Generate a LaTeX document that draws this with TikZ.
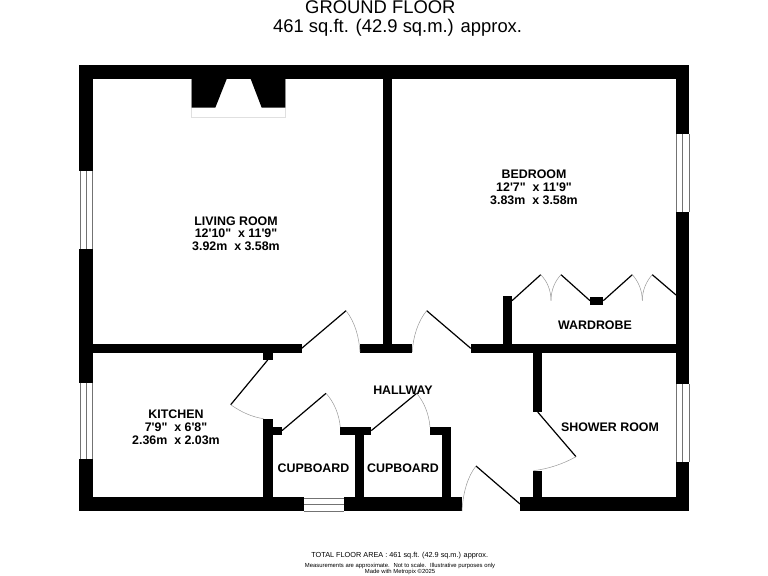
\documentclass[tikz,border=0pt]{standalone}
\usepackage{fontspec}
\setmainfont[Ligatures=TeXOff]{Liberation Sans}
\tikzset{
  wall/.style={fill=black,draw=none},
  leaf/.style={draw=black,line width=1.2bp},
  swing/.style={draw=black!40,line width=0.5bp},
  rail/.style={draw=black!55,line width=0.6bp},
  room/.style={font=\bfseries\fontsize{12.4bp}{12.8bp}\selectfont,align=center,inner sep=0pt,text=black},
  lbl/.style={font=\bfseries\fontsize{12.4bp}{12.8bp}\selectfont,inner sep=0pt,text=black},
  ttl/.style={anchor=base west,inner sep=0pt,font=\fontsize{18.4bp}{18.4bp}\selectfont},
}
\begin{document}
\begin{tikzpicture}[x=1bp,y=-1bp]
\useasboundingbox (0,0) rectangle (768,576);
% outer walls
\fill[wall] (79.3,65) rectangle (689.3,79);
\fill[wall] (79.3,65) rectangle (92.7,511.3);
\fill[wall] (676,65) rectangle (689.3,511.3);
\fill[wall] (79.3,497.3) rectangle (461.7,511.3);
\fill[wall] (520,497.3) rectangle (689.3,511.3);
% inner walls
\fill[wall] (383.3,79) rectangle (392.3,344);
\fill[wall] (92,343.8) rectangle (301.7,352.7);
\fill[wall] (360,343.8) rectangle (412.3,352.7);
\fill[wall] (470.7,343.8) rectangle (677,352.7);
\fill[wall] (263.4,352) rectangle (272.6,360.3);
\fill[wall] (263.4,418.7) rectangle (272.6,498);
\fill[wall] (263.4,426.7) rectangle (282,435);
\fill[wall] (340.3,426.7) rectangle (371.3,435);
\fill[wall] (355,435) rectangle (363.7,498);
\fill[wall] (430,426.7) rectangle (451.3,435);
\fill[wall] (442.3,426.7) rectangle (451.3,498);
\fill[wall] (533.3,352) rectangle (542.3,412);
\fill[wall] (533.3,471) rectangle (542.3,498);
\fill[wall] (502.7,296) rectangle (512,344);
\fill[wall] (590,296.7) rectangle (603.3,305.3);
% windows
\foreach \ya/\yb in {171/249,382.7/459.3}{
  \fill[white] (79.3,\ya) rectangle (92.7,\yb);
  \draw[rail] (79.8,\ya) -- (79.8,\yb) (86,\ya) -- (86,\yb) (92.2,\ya) -- (92.2,\yb);
}
\foreach \ya/\yb in {134/212,384.3/461.7}{
  \fill[white] (676,\ya) rectangle (689.3,\yb);
  \draw[rail] (676.5,\ya) -- (676.5,\yb) (682.6,\ya) -- (682.6,\yb) (688.8,\ya) -- (688.8,\yb);
}
\fill[white] (304,497.3) rectangle (343.7,511.3);
\draw[rail] (304,498) -- (343.7,498) (304,504.3) -- (343.7,504.3) (304,510.8) -- (343.7,510.8);
% chimney breast
\draw[draw=black!12,line width=0.6bp] (191.7,79) -- (191.7,117.3) -- (285.3,117.3) -- (285.3,79);
\fill[wall] (191.7,79) -- (226.7,79) -- (215.3,107.7) -- (191.7,107.7) -- cycle;
\fill[wall] (250.7,79) -- (285.3,79) -- (285.3,107.7) -- (261.7,107.7) -- cycle;
% doors
\draw[leaf] (301.7,348.3) -- (346,310.7);
\draw[swing] (346,310.7) .. controls (355,322) and (359,337) .. (360,352);
\draw[leaf] (470.7,348.3) -- (426.7,310.7);
\draw[swing] (426.7,310.7) .. controls (418,321) and (413,337) .. (412.3,352);
\draw[leaf] (267.7,360) -- (230.7,404.7);
\draw[swing] (230.7,404.7) .. controls (241,412) and (252,417) .. (263.5,418.7);
\draw[leaf] (282,430.6) -- (326,393.3);
\draw[swing] (326,393.3) .. controls (334,402) and (339,414) .. (340.3,427);
\draw[leaf] (371.3,430.6) -- (416.7,393.3);
\draw[swing] (416.7,393.3) .. controls (424,402) and (429,414) .. (430,427);
\draw[leaf] (537.7,412) -- (576,456.7);
\draw[swing] (576,456.7) .. controls (563,464) and (548,469) .. (533.3,470.7);
\draw[leaf] (520,504) -- (476,466);
\draw[swing] (476,466) .. controls (468,476) and (463,492) .. (462,511);
% wardrobe doors
\draw[leaf] (512,300.7) -- (540.7,274.7);
\draw[swing] (540.7,274.7) .. controls (547,281) and (551,290) .. (551,300.7);
\draw[swing] (561,274.7) .. controls (555,281) and (551,290) .. (551,300.7);
\draw[leaf] (561,274.7) -- (590,300.7);
\draw[leaf] (603.3,300.7) -- (632.3,274.7);
\draw[swing] (632.3,274.7) .. controls (638,281) and (642.3,290) .. (642.3,300.7);
\draw[swing] (652.3,274.7) .. controls (646.5,281) and (642.3,290) .. (642.3,300.7);
\draw[leaf] (652.3,274.7) -- (676,295);
% texts
\node[ttl] (title1) at (305,14) {GROUND FLOOR};
\node[ttl] (title2) at (273,32.7) {461 sq.ft. (42.9 sq.m.) approx.};
\node[room] (living) at (236,233.7) {LIVING ROOM\\12'10"~ x 11'9"\\3.92m~ x 3.58m};
\node[room] (bedroom) at (534,187.4) {BEDROOM\\12'7"~ x 11'9"\\3.83m~ x 3.58m};
\node[room] (kitchen) at (176,427) {KITCHEN\\7'9"~ x 6'8"\\2.36m~ x 2.03m};
\node[lbl] (wardrobe) at (595,325.7) {WARDROBE};
\node[lbl] (hallway) at (403,390.7) {HALLWAY};
\node[lbl] (shower) at (610,427.3) {SHOWER ROOM};
\node[lbl] (cup1) at (313.5,468.3) {CUPBOARD};
\node[lbl] (cup2) at (403,468.3) {CUPBOARD};
\node[inner sep=0pt,font=\fontsize{7.3bp}{8bp}\selectfont] (total) at (399.7,555.3) {TOTAL FLOOR AREA : 461 sq.ft. (42.9 sq.m.) approx.};
\node[inner sep=0pt,font=\fontsize{5.9bp}{6.4bp}\selectfont,align=center] (note) at (400,568.8) {Measurements are approximate.~ Not to scale.~ Illustrative purposes only\\Made with Metropix ©2025};
\end{tikzpicture}
\end{document}
